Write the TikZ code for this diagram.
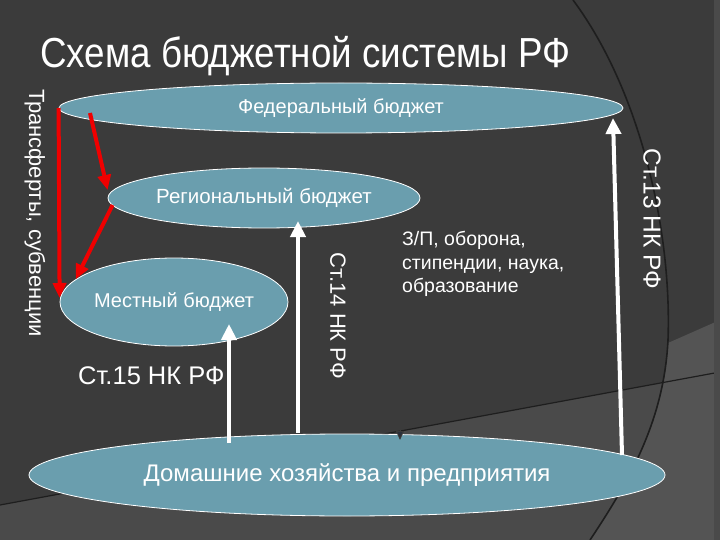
\documentclass[tikz,border=0pt]{standalone}
\usepackage{fontspec}
\setmainfont{Liberation Sans}
\usetikzlibrary{shapes.geometric,arrows.meta,calc}
\definecolor{bgdark}{HTML}{3B3B3B}
\definecolor{bglight}{HTML}{4A4A4A}
\definecolor{bglighter}{HTML}{545454}
\definecolor{curveline}{HTML}{1E1E1E}
\definecolor{ellfill}{HTML}{6A9EAE}
\definecolor{arrred}{HTML}{F00000}
\definecolor{tipdark}{HTML}{2A2F3A}
\tikzset{
  budget/.style={ellipse, draw=white, line width=0.8pt, fill=ellfill, inner sep=0pt, text=white},
  redarrow/.style={draw=arrred, line width=4pt, -{Triangle[length=15pt,width=13pt]}},
  whitearrow/.style={draw=white, line width=4pt, -{Triangle[length=16pt,width=15pt]}},
  label/.style={text=white, inner sep=0pt},
}
\begin{document}
\begin{tikzpicture}[x=1pt,y=-1pt]
\useasboundingbox (0,0) rectangle (720,540);
% background
\fill[bgdark] (0,0) rectangle (720,540);
\fill[bglight] (0,505) -- (720,372) -- (720,540) -- (0,540) -- cycle;
\fill[bglighter] (668,343) .. controls (665,420) and (630,480) .. (590,540) -- (720,540) -- (720,320) -- cycle;
\draw[curveline, line width=1.6pt] (573,0) .. controls (640,90) and (672,230) .. (668,340)
  .. controls (664,420) and (630,480) .. (590,540);
\draw[curveline, line width=1.2pt] (0,505) -- (720,372);
\fill[bglight] (714,0) rectangle (720,540);
% title
\node[label, anchor=west] (title) at (40,56)
  {\fontsize{42}{46}\selectfont\scalebox{0.875}[1]{Схема бюджетной системы РФ}};
% ellipses
\node[budget, minimum width=564pt, minimum height=50pt, font=\fontsize{20}{24}\selectfont] (fed) at (341,108)
  {Федеральный бюджет};
\node[budget, minimum width=312pt, minimum height=60pt, font=\fontsize{20.5}{24}\selectfont] (reg) at (264,198)
  {Региональный бюджет};
\node[budget, minimum width=228pt, minimum height=88pt, font=\fontsize{20}{24}\selectfont] (loc) at (174,302)
  {Местный бюджет};
\node[budget, minimum width=636pt, minimum height=82pt, font=\fontsize{24}{28}\selectfont] (hh) at (347,475)
  {Домашние хозяйства и предприятия};
% labels
\node[label, rotate=-90, font=\fontsize{22}{26}\selectfont] (transf) at (35,213)
  {Трансферты, субвенции};
\node[label, rotate=-90, font=\fontsize{24.5}{28}\selectfont] (st13) at (652,219)
  {Ст.13 НК РФ};
\node[label, rotate=-90, font=\fontsize{22}{26}\selectfont] (st14) at (338,316)
  {Ст.14 НК РФ};
\node[label, anchor=west, font=\fontsize{25.5}{28}\selectfont] (st15) at (78,376)
  {Ст.15 НК РФ};
\node[label, anchor=north west, align=left, font=\fontsize{19.5}{23.5}\selectfont] (zp) at (402,231)
  {З/П, оборона,\\стипендии, наука,\\образование};
% coordinates for arrow ends
\coordinate (r2s) at ($(fed.center)+(-251,5)$);
\coordinate (r2e) at ($(reg.west)+(0,-8)$);
\coordinate (r3s) at ($(reg.west)+(5,7)$);
\coordinate (r3e) at (loc.167);
\coordinate (w1s) at (229,443);
\coordinate (w1e) at (229,324);
\coordinate (w2s) at (298,433);
\coordinate (w2e) at (298,221);
\coordinate (w3s) at (622,455);
\coordinate (w3e) at (613,118);
\coordinate (tipstart) at (400,420);
\coordinate (tipend) at (400,440);
% red arrows
\draw[redarrow] (fed.west) -- ($(loc.west)+(0,-4)$);
\draw[redarrow] (r2s) -- (r2e);
\draw[redarrow] (r3s) -- (r3e);
% white arrows
\draw[whitearrow] (w1s) -- (w1e);
\draw[whitearrow] (w2s) -- (w2e);
\draw[whitearrow] (w3s) -- (w3e);
% small dark tip
\draw[draw=bgdark, line width=1pt, -{Triangle[length=9pt,width=8pt,fill=tipdark]}] (tipstart) -- (tipend);
\end{tikzpicture}
\end{document}
